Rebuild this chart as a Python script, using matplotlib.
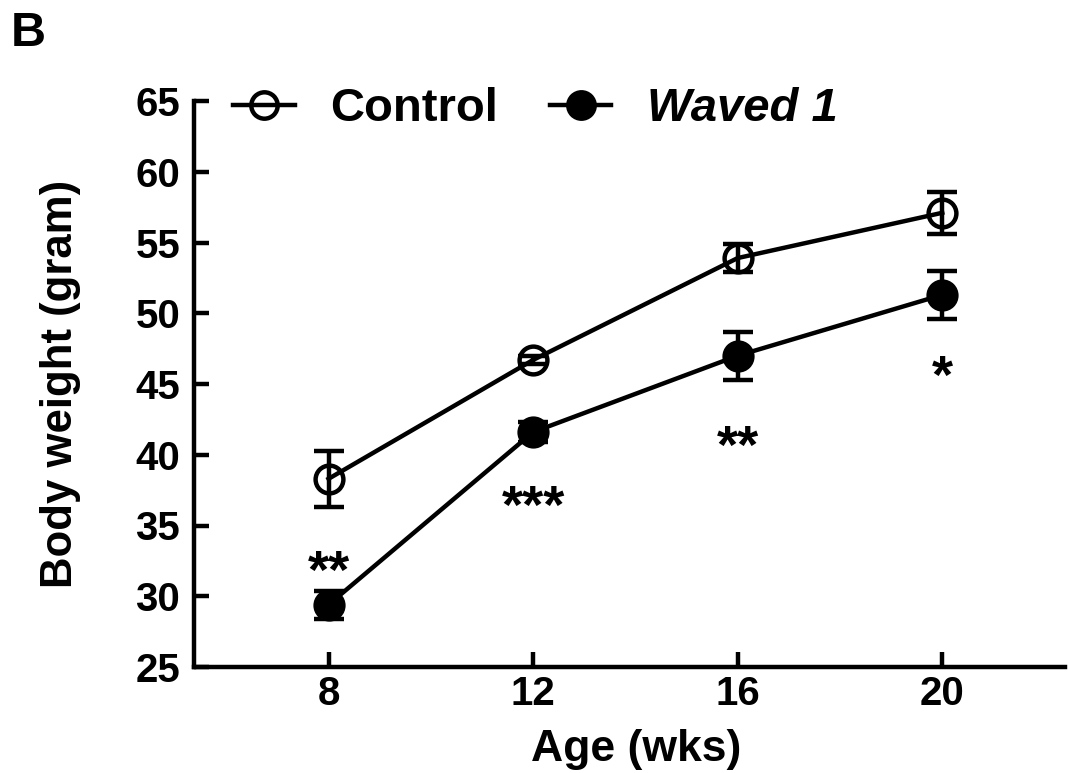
import numpy as np
import matplotlib.pyplot as plt
from matplotlib.lines import Line2D

plt.rcParams['font.family'] = ['Liberation Sans', 'DejaVu Sans']
plt.rcParams['font.weight'] = 'bold'

# data
ages = [8, 12, 16, 20]
control_mean = [38.3, 46.7, 53.9, 57.1]
control_err = [2.0, 0.3, 1.0, 1.5]
waved_mean = [29.4, 41.6, 47.0, 51.3]
waved_err = [1.0, 0.7, 1.7, 1.7]
stars = ['**', '***', '**', '*']
star_y = [30.6, 35.15, 39.45, 44.35]   # baseline of the asterisk text

LW = 3.2
fig = plt.figure(figsize=(10.68, 7.73), dpi=100)
ax = fig.add_axes([194 / 1068, 106 / 773, 871 / 1068, 566 / 773])

ax.errorbar(ages, control_mean, yerr=control_err, color='black', lw=LW,
            marker='o', markersize=20, markerfacecolor='none', markeredgewidth=LW,
            capsize=11, capthick=LW, elinewidth=LW)
ax.errorbar(ages, waved_mean, yerr=waved_err, color='black', lw=LW,
            marker='o', markersize=20, markerfacecolor='black', markeredgewidth=LW,
            capsize=11, capthick=LW, elinewidth=LW)

for x, s, y in zip(ages, stars, star_y):
    ax.text(x, y, s, ha='center', va='baseline', fontsize=39, fontweight='bold')

ax.set_xlim(5.37, 22.4)
ax.set_ylim(25, 65)
ax.set_xticks(ages)
ax.set_yticks(np.arange(25, 66, 5))
ax.tick_params(direction='in', width=LW, length=11, labelsize=29)
ax.tick_params(axis='y', pad=10)
ax.tick_params(axis='x', pad=6)
for lab in ax.get_xticklabels() + ax.get_yticklabels():
    lab.set_fontweight('bold')
ax.spines['top'].set_visible(False)
ax.spines['right'].set_visible(False)
ax.spines['left'].set_linewidth(LW)
ax.spines['bottom'].set_linewidth(LW)

ax.set_xlabel('Age (wks)', fontsize=32, fontweight='bold')
ax.set_ylabel('Body weight (gram)', fontsize=31.5, fontweight='bold')
ax.xaxis.set_label_coords(0.508, -0.11)
ax.yaxis.set_label_coords(-0.13, 0.5)

handles = [
    Line2D([], [], color='black', lw=LW, marker='o', markersize=19,
           markerfacecolor='none', markeredgewidth=LW),
    Line2D([], [], color='black', lw=LW, marker='o', markersize=19,
           markerfacecolor='black', markeredgewidth=LW),
]
leg = ax.legend(handles, ['Control', 'Waved 1'], loc='center left',
                bbox_to_anchor=(0.018, 0.985), ncol=2, frameon=False, borderpad=0,
                fontsize=34, handlelength=1.3, columnspacing=1.1, handletextpad=0.75)
leg.get_texts()[1].set_fontstyle('italic')

fig.text(0.010, 0.94, 'B', fontsize=35, fontweight='bold')

fig.savefig('out.png', dpi=100)
